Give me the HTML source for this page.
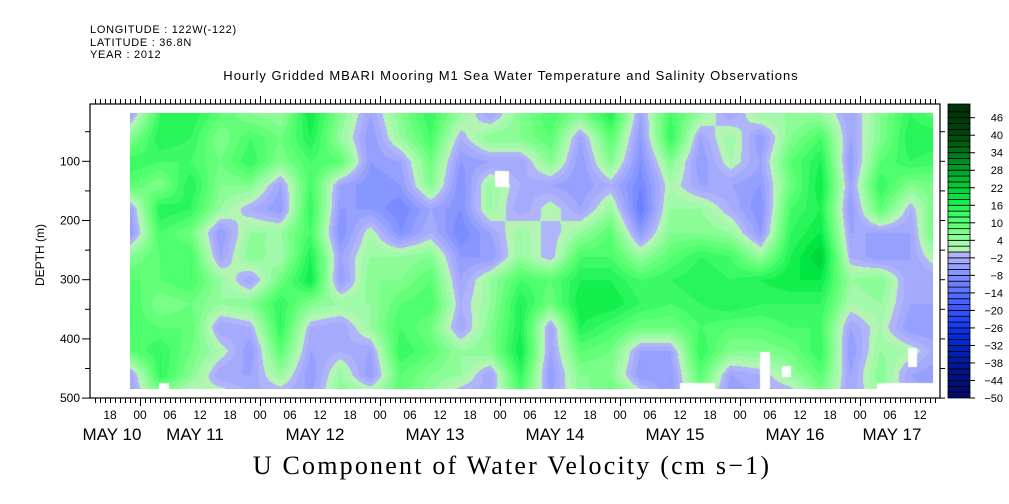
<!DOCTYPE html>
<html><head><meta charset="utf-8">
<style>
body{margin:0;background:#fff;width:1009px;height:504px;overflow:hidden;position:relative;font-family:"Liberation Sans",sans-serif;}
.t{position:absolute;white-space:nowrap;color:#000;}
</style></head>
<body>
<div class="t" style="left:90px;top:24px;font-size:11px;letter-spacing:0.7px;">LONGITUDE : 122W(-122)</div>
<div class="t" style="left:90px;top:37px;font-size:11px;letter-spacing:0.7px;">LATITUDE : 36.8N</div>
<div class="t" style="left:90px;top:49px;font-size:11px;letter-spacing:0.7px;">YEAR : 2012</div>
<div class="t" style="left:511px;top:68px;font-size:13px;letter-spacing:1px;transform:translateX(-50%);">Hourly Gridded MBARI Mooring M1 Sea Water Temperature and Salinity Observations</div>
<div class="t" style="left:512px;top:451px;font-size:26px;font-family:'Liberation Serif',serif;transform:translateX(-50%);letter-spacing:2.2px;">U Component of Water Velocity (cm s−1)</div>
<div class="t" style="left:40px;top:255px;font-size:12px;transform:translate(-50%,-50%) rotate(-90deg);">DEPTH (m)</div>
<canvas id="hm" width="803" height="276" style="position:absolute;left:130px;top:113px;"></canvas>
<svg id="ax" width="1009" height="504" style="position:absolute;left:0;top:0;"></svg>
<script>
const hours = [22,28,34,40,46,52,58,64,70,76,82,88,94,100,106,112,118,124,130,136,142,148,154,160,166,172,178,184];
const depths = [20,60,100,140,180,220,260,300,340,380,420,460,500];
// values[col][row] in cm/s
const values = [
[-4,6,14,10,-4,-6,6,10,12,12,10,-4,-4],
[14,16,12,6,16,12,10,10,6,10,14,14,4],
[16,14,12,16,14,8,12,12,8,10,8,6,-2],
[10,6,8,6,4,-6,-4,4,4,-4,2,-4,4],
[6,12,14,6,-2,4,6,-4,6,-2,-6,-4,-2],
[4,8,6,-4,-6,4,2,8,14,14,10,4,-4],
[18,16,12,12,14,12,16,18,6,-2,-4,-6,-4],
[6,4,10,-4,-6,-8,-4,-6,4,-4,-2,4,6],
[-4,-6,-6,-8,-6,2,4,6,4,4,-4,-6,6],
[6,4,-4,-6,-10,-8,4,6,10,12,14,10,10],
[14,12,8,6,-4,-2,6,10,12,8,10,6,4],
[4,-2,-6,-8,-8,-10,-6,-4,-2,-4,4,4,-4],
[-4,6,-4,4,4,-4,-6,4,4,6,6,-4,-2],
[6,6,-4,-2,-4,4,4,12,16,16,18,14,10],
[12,10,6,-4,2,-2,-2,10,8,-4,-4,-6,-4],
[6,-4,-6,-6,-4,4,12,16,18,16,10,6,4],
[16,10,6,-2,4,10,12,16,18,12,8,6,10],
[-4,-6,-8,-10,-12,-6,4,12,14,8,-4,-6,4],
[12,14,6,2,4,6,10,14,12,8,-4,-6,-6],
[4,-4,-6,-4,4,6,14,16,14,12,14,10,6],
[-4,4,2,-4,-2,4,12,14,16,10,6,-4,-6],
[4,-6,-4,-6,-8,-6,4,16,14,10,6,-2,-4],
[4,6,10,8,12,14,16,18,14,12,8,4,-4],
[4,12,16,18,16,18,22,18,14,12,14,10,6],
[-4,-4,-6,-4,-6,-4,-2,4,2,-4,-6,-4,-4],
[6,6,10,14,10,-4,-6,6,4,2,4,6,4],
[14,16,14,6,-2,-4,-4,-4,-4,-6,2,-4,-2],
[10,16,12,8,10,12,4,-4,-4,-6,-4,-6,-6]
];
const cbLevels = [-50,-48,-46,-44,-42,-40,-38,-36,-34,-32,-30,-28,-26,-24,-22,-20,-18,-16,-14,-12,-10,-8,-6,-4,-2,0,2,4,6,8,10,12,14,16,18,20,22,24,26,28,30,32,34,36,38,40,42,44,46,48,50];
const cbLabels = [46,40,34,28,22,16,10,4,-2,-8,-14,-20,-26,-32,-38,-44,-50];

function xOf(h){return 90+(h-14)*5;}
function yOf(d){return 161.3+(d-100)*0.592;}
function dOfY(y){return 100+(y-161.3)/0.592;}
function hOfX(x){return 14+(x-90)/5;}
function colorFor(v){
  const lv=Math.floor(v/2)*2;
  if(lv>=0){
    const g=[[180,245,180],[160,250,170],[140,252,150],[120,255,135],[100,255,120],[80,255,110],[60,250,100],[40,245,90],[20,240,75],[0,230,65],[0,215,60],[0,200,55],[0,185,50],[0,170,45],[0,155,40],[0,140,35],[0,125,30],[0,110,25],[0,95,20],[0,80,15],[0,70,12],[0,65,10],[0,60,8],[0,55,6],[0,50,5],[0,45,4]];
    return g[Math.min(g.length-1,lv/2)];
  } else {
    const k=(-lv)/2-1;
    const b=[[176,180,250],[164,170,252],[150,160,255],[136,150,255],[122,140,255],[110,128,255],[96,118,255],[84,108,255],[72,98,255],[60,88,255],[48,78,250],[36,70,245],[24,60,240],[12,52,230],[0,45,220],[0,40,205],[0,36,190],[0,32,175],[0,28,160],[0,24,150],[0,20,140],[0,18,130],[0,16,120],[0,14,115],[0,12,110]];
    return b[Math.min(b.length-1,k)];
  }
}
function sample(h,d){
  let i=0;while(i<hours.length-2&&h>hours[i+1])i++;
  let j=0;while(j<depths.length-2&&d>depths[j+1])j++;
  let tx=(h-hours[i])/(hours[i+1]-hours[i]);tx=Math.max(0,Math.min(1,tx));
  let ty=(d-depths[j])/(depths[j+1]-depths[j]);ty=Math.max(0,Math.min(1,ty));
  const a=values[i][j],b=values[i+1][j],c=values[i][j+1],e=values[i+1][j+1];
  return a*(1-tx)*(1-ty)+b*tx*(1-ty)+c*(1-tx)*ty+e*tx*ty;
}
(function(){
  const cv=document.getElementById('hm');const ctx=cv.getContext('2d');
  const im=ctx.createImageData(cv.width,cv.height);
  for(let py=0;py<cv.height;py++){
    const d=dOfY(113+py);
    for(let px=0;px<cv.width;px++){
      const v=sample(hOfX(130+px),d);
      const c=colorFor(v);const k=(py*cv.width+px)*4;
      im.data[k]=c[0];im.data[k+1]=c[1];im.data[k+2]=c[2];im.data[k+3]=255;
    }
  }
  ctx.putImageData(im,0,0);
  ctx.fillStyle='#fff';
  [[365,58,14,16],[29,270,10,6],[550,270,35,6],[630,239,10,37],[652,253,9,11],[747,270,56,6],[778,235,9,19]].forEach(r=>ctx.fillRect(r[0],r[1],r[2],r[3]));
})();
(function(){
  const svg=document.getElementById('ax');const NS='http://www.w3.org/2000/svg';
  function el(t,a,p){const e=document.createElementNS(NS,t);for(const k in a)e.setAttribute(k,a[k]);(p||svg).appendChild(e);return e;}
  const L=90,R=940,T=104,B=398;
  const fr=el('rect',{x:L,y:T,width:R-L,height:B-T,fill:'none',stroke:'#000','stroke-width':1.2});
  
  
  const g=el('g',{stroke:'#000','stroke-width':1});
  for(let h=15;h<184;h+=1){
    const x=xOf(h)+0.5;const major=(h%24===0);
    el('line',{x1:x,y1:B,x2:x,y2:B+(major?8:5)},g);
    el('line',{x1:x,y1:T,x2:x,y2:T-(major?8:5)},g);
  }
  for(let d=50;d<=500;d+=50){
    const y=yOf(d);
    el('line',{x1:L,y1:y,x2:L-(d%100===0?8:5),y2:y},g);
    el('line',{x1:R,y1:y,x2:R+5,y2:y},g);
  }
  for(let d=100;d<=500;d+=100){
    const t=el('text',{x:L-10,y:yOf(d)+4,'text-anchor':'end','font-size':12,'font-family':'Liberation Sans, sans-serif'});t.textContent=d;
    
    
  }
  for(let h=18;h<=180;h+=6){
    const t=el('text',{x:xOf(h),y:419,'text-anchor':'middle','font-size':12,'font-family':'Liberation Sans, sans-serif'});
    t.textContent=String(h%24).padStart(2,'0');
    
    
  }
  const days=['MAY 10','MAY 11','MAY 12','MAY 13','MAY 14','MAY 15','MAY 16','MAY 17'];
  const dx=[112,195,315,435,555,675,795,892];
  days.forEach((s,i)=>{
    const t=el('text',{x:dx[i],y:440,'text-anchor':'middle','font-size':17,'font-family':'Liberation Sans, sans-serif'});t.textContent=s;
    
    
  });
  const cbY=v=>398-(v+50)*2.92;
  const cb=el('g',{});
  
  
  for(let i=0;i<cbLevels.length-1;i++){
    const lo=cbLevels[i],hi=cbLevels[i+1];const c=colorFor(lo+0.5);
    const y0=i===cbLevels.length-2?104:cbY(hi);
    el('rect',{x:948,y:y0,width:22,height:cbY(lo)-y0,fill:`rgb(${c[0]},${c[1]},${c[2]})`,stroke:'#000','stroke-width':0.8},cb);
  }
  cbLabels.forEach(v=>{
    const y=cbY(v);
    el('line',{x1:970,y1:y,x2:975,y2:y,stroke:'#000'},cb);
    const t=el('text',{x:1003,y:y+4,'text-anchor':'end','font-size':11,'font-family':'Liberation Sans, sans-serif'},cb);
    t.textContent=v<0?'−'+(-v):v;
    
    
  });
})();
</script>
</body></html>
